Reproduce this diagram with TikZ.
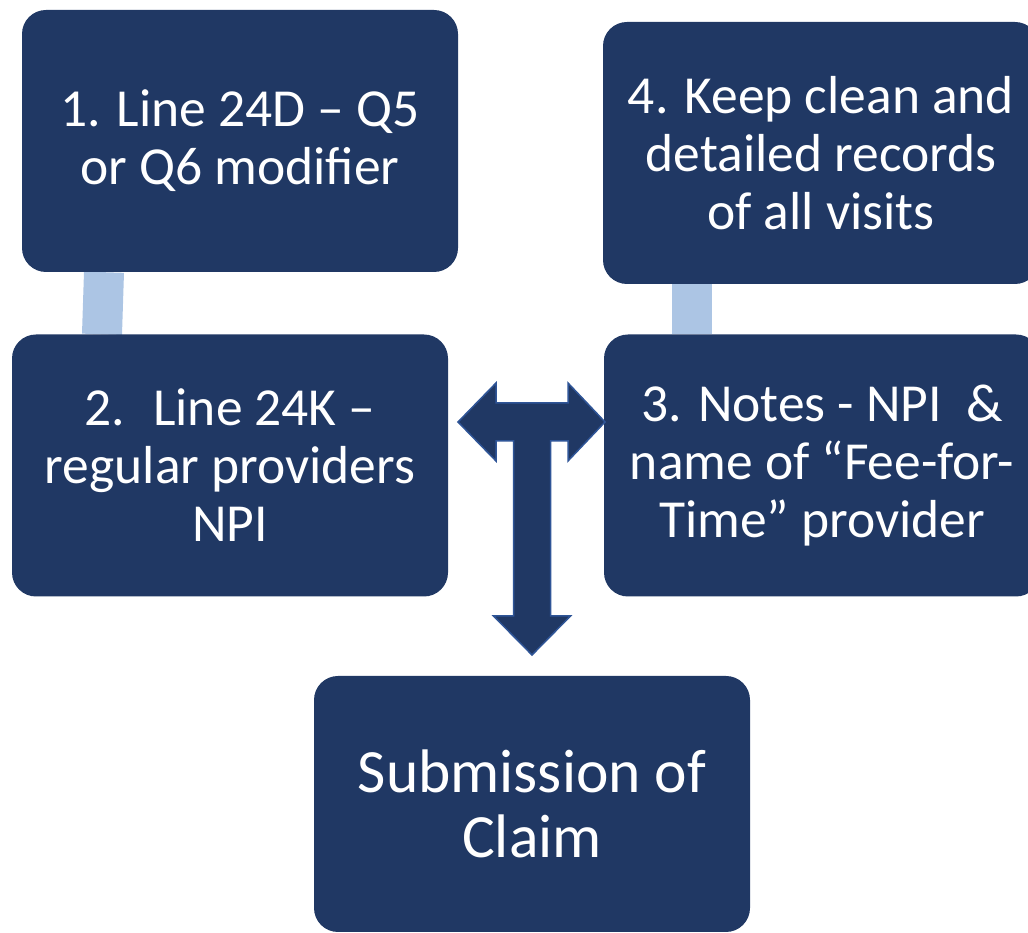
\documentclass[tikz,border=0pt]{standalone}
\usepackage{fontspec}
\setmainfont{Carlito}
\usetikzlibrary{backgrounds}

\definecolor{navy}{RGB}{32,56,100}
\definecolor{paleblue}{RGB}{172,197,228}
\definecolor{edgeblue}{RGB}{47,85,151}

\tikzset{
  stepbox/.style={rectangle, rounded corners=24pt, fill=navy, text=white,
    minimum width=436pt, minimum height=262pt, inner sep=0pt, align=center,
    font=\fontsize{53.5}{58}\selectfont},
  link/.style={paleblue, line width=40pt}
}

\begin{document}
\begin{tikzpicture}[x=1pt,y=1pt]
    \clip (0,0) rectangle (1028,933);

    \node [stepbox] (S1) at (240,792) {1. Line 24D – Q5\\or Q6 modifier};
    \node [stepbox] (S4) at (821,780) {4. Keep clean and\\detailed records\\of all visits};
    \node [stepbox] (S2) at (230,467.5) {2.~ Line 24K –\\regular providers\\NPI};
    \node [stepbox] (S3) at (822,467.5) {3. Notes - NPI~ \&\\name of “Fee-for-\\Time” provider};
    \node [stepbox, minimum height=256pt, font=\fontsize{61.5}{65}\selectfont] (S5) at (532,129) {Submission of\\Claim};

    % pale links behind the boxes
    \begin{scope}[on background layer]
        \draw [link] ([xshift=-136pt]S1.south) -- ([xshift=-128pt]S2.north);
        \draw [link] ([xshift=-129.5pt]S4.south) -- ([xshift=-130.5pt]S3.north);
    \end{scope}

    % T-shaped arrow
    \begin{scope}[shift={(532,511)}]
        \draw [fill=navy, draw=edgeblue, line width=1.5pt, line join=miter]
            (-74,0) -- (-36,39) -- (-36,19) -- (36,19) -- (36,39) -- (73,0)
            -- (36,-39) -- (36,-19) -- (18.5,-19) -- (18.5,-194) -- (38.5,-194)
            -- (0,-233) -- (-38.5,-194) -- (-18.5,-194) -- (-18.5,-19)
            -- (-36,-19) -- (-36,-39) -- cycle;
    \end{scope}
\end{tikzpicture}
\end{document}
